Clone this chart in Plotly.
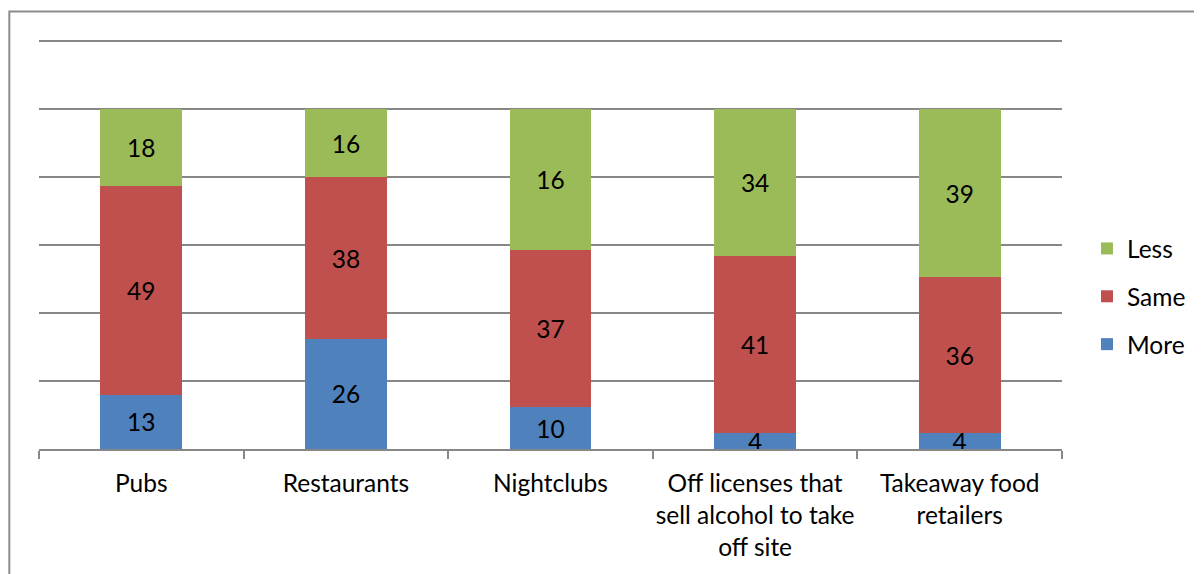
import plotly.graph_objects as go

categories = [
    "Pubs",
    "Restaurants",
    "Nightclubs",
    "Off licenses that<br>sell alcohol to take<br>off site",
    "Takeaway food<br>retailers",
]

# bar heights (percent of bar)
more_pct = [16.0, 32.4, 12.3, 4.7, 4.7]
same_pct = [61.4, 47.5, 46.1, 52.1, 45.9]
less_pct = [22.6, 20.1, 41.6, 43.2, 49.4]

# data labels as printed
more_lbl = [13, 26, 10, 4, 4]
same_lbl = [49, 38, 37, 41, 36]
less_lbl = [18, 16, 16, 34, 39]

FONT = "Lato"
FS = 24.5
GRID = "#878787"

# page body has an 8px margin; work in figure coordinates
L, R = 30.7, 1054.0
BOT = 441.5
YMAX = 120.6
PH = 408 * YMAX / 120
TOP = BOT - PH
PW = R - L

fig = go.Figure()
for name, vals, lbls, col, rank in [
    ("More", more_pct, more_lbl, "#4F81BD", 3),
    ("Same", same_pct, same_lbl, "#C0504D", 2),
    ("Less", less_pct, less_lbl, "#9BBB59", 1),
]:
    fig.add_trace(go.Bar(
        name=name, x=categories, y=vals,
        text=[str(v) for v in lbls],
        textposition="inside", insidetextanchor="middle", textangle=0,
        textfont=dict(family=FONT, size=FS, color="black"),
        marker=dict(color=col, line=dict(width=0)),
        legendgroup=name, legendrank=rank, hoverinfo="skip",
    ))

fig.update_layout(
    width=1202, height=574,
    barmode="stack", bargap=0.6,
    margin=dict(l=L, r=1202 - R, t=TOP, b=574 - BOT, pad=0, autoexpand=False),
    paper_bgcolor="white", plot_bgcolor="white",
    font=dict(family=FONT, size=FS, color="black"),
    uniformtext=dict(minsize=FS, mode="show"),
    showlegend=True,
    legend=dict(
        traceorder="grouped", x=(1079 - L) / PW, xanchor="left",
        y=(BOT - 289) / PH, yanchor="middle",
        font=dict(family=FONT, size=FS, color="black"),
        tracegroupgap=13, bgcolor="rgba(0,0,0,0)",
    ),
    xaxis=dict(
        type="category", showline=True, linecolor=GRID, linewidth=1.5,
        ticks="outside", tickson="boundaries", ticklen=8, tickcolor=GRID, tickwidth=1.5,
        ticklabelstandoff=12, tickangle=0,
        showgrid=False, tickfont=dict(family=FONT, size=FS, color="black"),
        fixedrange=True, automargin=False,
    ),
    yaxis=dict(
        range=[0, YMAX], dtick=20, showgrid=True, gridcolor=GRID, gridwidth=1.5,
        showticklabels=False, zeroline=False, showline=False, ticks="",
        fixedrange=True, automargin=False,
    ),
    shapes=[dict(
        type="rect", xref="paper", yref="paper",
        x0=(1 - L) / PW, x1=1.3, y0=-0.5, y1=(BOT - 4) / PH,
        line=dict(color="#8C8C8C", width=2), fillcolor="rgba(0,0,0,0)", layer="below",
    )],
)

fig.write_html("out.html")
